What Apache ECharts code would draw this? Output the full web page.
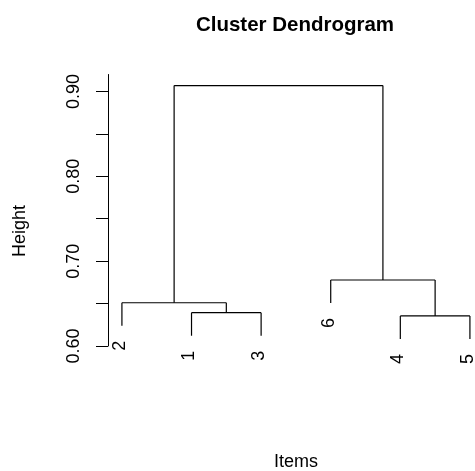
<!DOCTYPE html>
<html>
<head>
<meta charset="utf-8">
<script src="https://cdn.jsdelivr.net/npm/echarts@6/dist/echarts.min.js"></script>
<style>
  html, body { margin: 0; padding: 0; background: #fff; }
  #chart { width: 475px; height: 471px; }
</style>
</head>
<body>
<div id="chart"></div>
<script>
// hclust style data: leaf names, leaf order, merge table (negative = leaf), merge heights
const leafNames = ["1", "2", "3", "4", "5", "6"];
const leafOrder = [2, 1, 3, 6, 4, 5];
const mergeLeft = [-4, -1, -2, -6, 3];
const mergeRight = [-5, -3, 2, 1, 4];
const mergeHeights = [0.6354, 0.6393, 0.651, 0.6778, 0.907];
const labelTicks = [0.6, 0.7, 0.8, 0.9];
const minorTicks = [0.6, 0.65, 0.7, 0.75, 0.8, 0.85, 0.9];
const hang = 0.0272;

const font = "'Liberation Sans', Arial, Helvetica, sans-serif";

// work out node positions and the segments of the tree
let leafX = {};
leafOrder.forEach((leaf, i) => { leafX[leaf] = i + 1; });
let nodeX = [];
let segments = [];
let leafEnds = [];

function childInfo(ref, h) {
  if (ref < 0) {
    let x = leafX[-ref];
    let y = h - hang;
    leafEnds.push([x, y, leafNames[-ref - 1]]);
    return [x, y];
  }
  return [nodeX[ref - 1], mergeHeights[ref - 1]];
}

for (let i = 0; i < mergeHeights.length; i++) {
  let h = mergeHeights[i];
  let a = childInfo(mergeLeft[i], h);
  let b = childInfo(mergeRight[i], h);
  segments.push([a[0], a[1], a[0], h]);
  segments.push([b[0], b[1], b[0], h]);
  segments.push([a[0], h, b[0], h]);
  nodeX.push((a[0] + b[0]) / 2);
}

const chart = echarts.init(document.getElementById("chart"));
const option = {
  animation: false,
  grid: { left: 108, right: 0, top: 74.5, bottom: 125 },
  xAxis: { type: "value", min: 0.8, max: 6.073, show: false },
  yAxis: {
    type: "value",
    min: 0.6,
    max: 0.92,
    splitLine: { show: false },
    axisLine: { show: true, lineStyle: { color: "#000", width: 1 } },
    axisTick: { show: true, length: 12, customValues: minorTicks, lineStyle: { color: "#000" } },
    axisLabel: {
      customValues: labelTicks,
      rotate: 90,
      margin: 25,
      color: "#000",
      fontSize: 18,
      fontFamily: font,
      formatter: (v) => v.toFixed(2),
    },
  },
  series: [
    {
      type: "custom",
      data: segments,
      renderItem: (params, api) => {
        let p1 = api.coord([api.value(0), api.value(1)]);
        let p2 = api.coord([api.value(2), api.value(3)]);
        return {
          type: "line",
          shape: { x1: p1[0], y1: p1[1], x2: p2[0], y2: p2[1] },
          style: { stroke: "#000", lineWidth: 1.2 },
        };
      },
    },
    {
      type: "custom",
      data: leafEnds,
      renderItem: (params, api) => {
        let p = api.coord([api.value(0), api.value(1)]);
        return {
          type: "text",
          x: p[0] - 2,
          y: p[1] + 15,
          rotation: Math.PI / 2,
          style: {
            text: leafEnds[params.dataIndex][2],
            fill: "#000",
            fontSize: 18,
            fontFamily: font,
            align: "right",
            verticalAlign: "middle",
          },
        };
      },
    },
  ],
  graphic: [
    {
      type: "text",
      x: 295,
      y: 25,
      style: {
        text: "Cluster Dendrogram",
        fill: "#000",
        fontSize: 20.5,
        fontWeight: "bold",
        fontFamily: font,
        align: "center",
        verticalAlign: "middle",
      },
    },
    {
      type: "text",
      x: 20,
      y: 231,
      rotation: Math.PI / 2,
      style: {
        text: "Height",
        fill: "#000",
        fontSize: 18,
        fontFamily: font,
        align: "center",
        verticalAlign: "middle",
      },
    },
    {
      type: "text",
      x: 296,
      y: 462,
      style: {
        text: "Items",
        fill: "#000",
        fontSize: 18,
        fontFamily: font,
        align: "center",
        verticalAlign: "middle",
      },
    },
  ],
};
chart.setOption(option);
</script>
</body>
</html>
